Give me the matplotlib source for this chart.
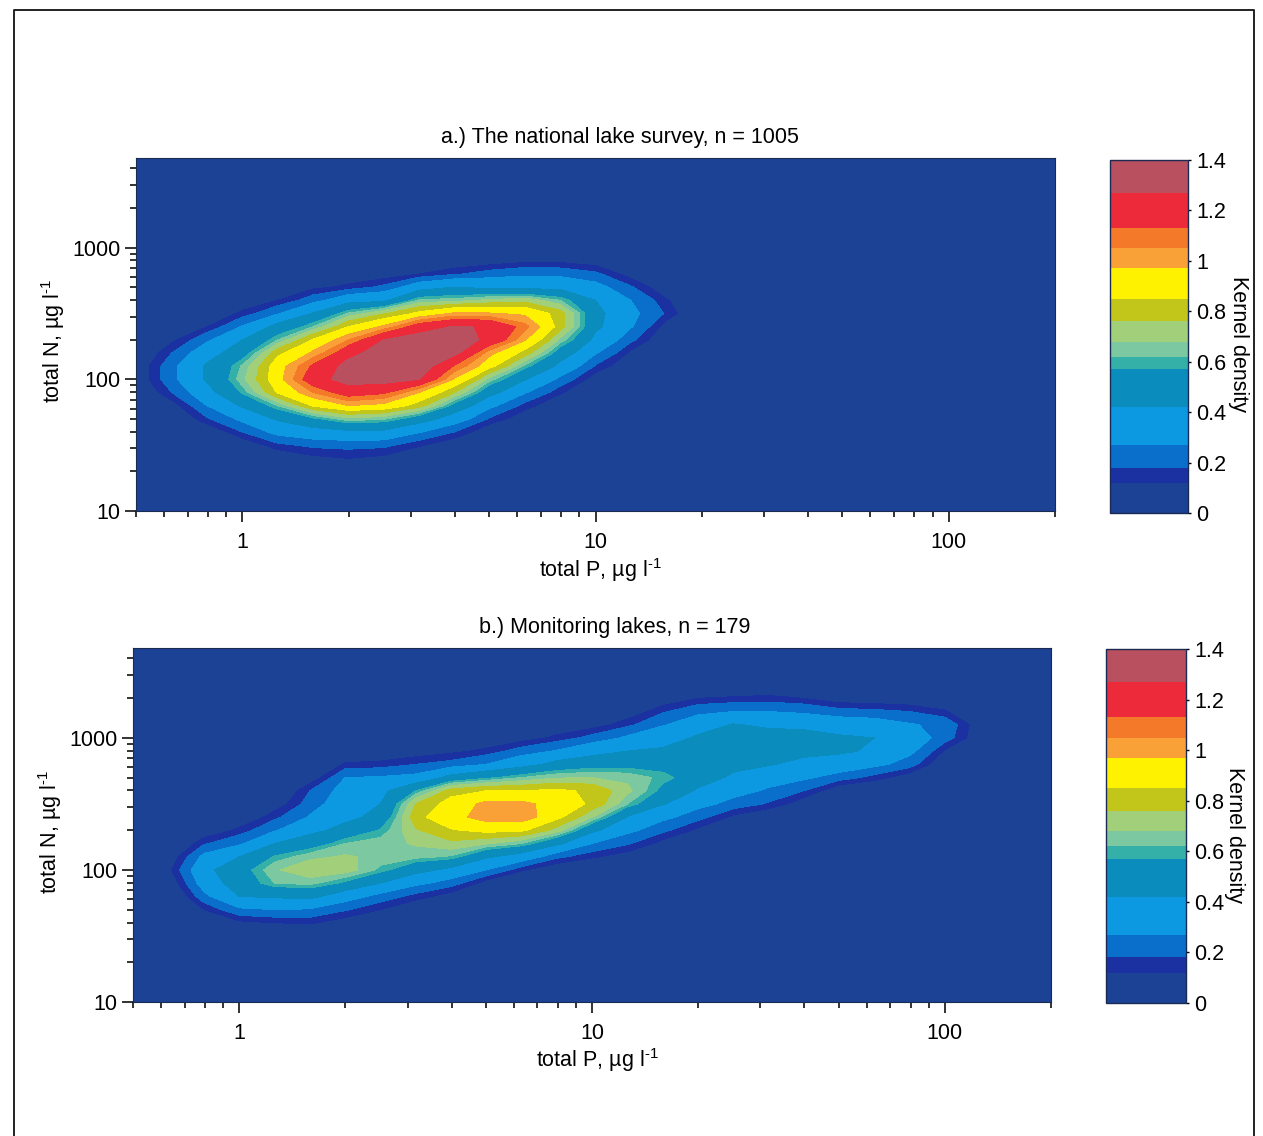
import numpy as np
import matplotlib
matplotlib.use("Agg")
import matplotlib.pyplot as plt
from matplotlib.colors import ListedColormap, BoundaryNorm
from matplotlib.lines import Line2D
from matplotlib.ticker import LogLocator, NullFormatter

plt.rcParams['font.family'] = ['Liberation Sans', 'DejaVu Sans']
plt.rcParams['mathtext.fontset'] = 'custom'
plt.rcParams['mathtext.rm'] = 'Liberation Sans'
plt.rcParams['mathtext.default'] = 'regular'

W, H = 1263, 1136

title_a = "a.) The national lake survey, n = 1005"
title_b = "b.) Monitoring lakes, n = 179"
x_ticks = [1, 10, 100]
x_tick_labels = ["1", "10", "100"]
y_ticks = [10, 100, 1000]
y_tick_labels = ["10", "100", "1000"]
cbar_ticks = [0, 0.2, 0.4, 0.6, 0.8, 1.0, 1.2, 1.4]
cbar_tick_labels = ["0", "0.2", "0.4", "0.6", "0.8", "1", "1.2", "1.4"]

band_levels = [0, .12, .18, .27, .42, .57, .62, .68, .76, .85, .97, 1.05, 1.13, 1.27, 1.4]
band_colors = ["#1c4296", "#1b31a2", "#0a6ecb", "#0d98e2", "#0a8dbc", "#35b0a8",
               "#7cc8a0", "#a2cf7a", "#c2c61a", "#fff200", "#f9a037", "#f47a2a", "#ec2a3a", "#b85060"]

# Panel a: log10 total P (columns), log10 total N (rows), density read per column, bottom to top
log_p_a = [-0.3, -0.2, -0.1, 0.0, 0.1, 0.2, 0.3, 0.4, 0.5, 0.6, 0.7, 0.8, 0.9, 1.0, 1.1, 1.2, 1.3]
log_n_a = [1.3, 1.4, 1.5, 1.6, 1.7, 1.8, 1.9, 2.0, 2.1, 2.2, 2.3, 2.4, 2.5, 2.6, 2.7, 2.8, 2.9, 3.0]
density_a_cols = [
    [0, 0, 0, 0, 0, 0, .03, .06, .06, .03, 0, 0, 0, 0, 0, 0, 0, 0],
    [0, 0, 0, 0, .02, .08, .18, .24, .24, .18, .1, .04, 0, 0, 0, 0, 0, 0],
    [0, 0, 0, .05, .17, .27, .37, .44, .44, .36, .25, .12, .04, 0, 0, 0, 0, 0],
    [0, 0, .06, .18, .3, .44, .58, .66, .63, .51, .42, .28, .14, .05, 0, 0, 0, 0],
    [0, .05, .16, .31, .44, .62, .86, .93, .92, .82, .62, .47, .26, .12, .04, 0, 0, 0],
    [.02, .1, .2, .36, .55, .86, 1.05, 1.22, 1.15, .99, .86, .62, .43, .23, .1, .03, 0, 0],
    [.02, .12, .21, .39, .66, .97, 1.2, 1.32, 1.32, 1.22, 1.05, .85, .63, .36, .14, .05, 0, 0],
    [.02, .1, .2, .39, .63, .94, 1.15, 1.33, 1.36, 1.35, 1.27, .99, .75, .39, .2, .07, .02, 0],
    [0, .04, .13, .28, .5, .8, .97, 1.27, 1.35, 1.35, 1.33, 1.2, .88, .63, .35, .12, .03, 0],
    [0, 0, .06, .18, .34, .53, .76, .96, 1.12, 1.31, 1.33, 1.28, .99, .65, .42, .17, .05, 0],
    [0, 0, 0, .05, .17, .3, .47, .65, .89, 1.0, 1.24, 1.26, .98, .7, .38, .22, .07, 0],
    [0, 0, 0, 0, .06, .15, .28, .43, .6, .81, .98, 1.08, .95, .73, .37, .25, .1, .02],
    [0, 0, 0, 0, 0, .05, .13, .24, .38, .5, .66, .8, .8, .62, .38, .24, .1, .02],
    [0, 0, 0, 0, 0, 0, .02, .07, .17, .28, .38, .45, .46, .42, .31, .2, .07, 0],
    [0, 0, 0, 0, 0, 0, 0, 0, .04, .1, .2, .28, .3, .27, .19, .08, .02, 0],
    [0, 0, 0, 0, 0, 0, 0, 0, 0, 0, .03, .08, .17, .13, .05, 0, 0, 0],
    [0, 0, 0, 0, 0, 0, 0, 0, 0, 0, 0, 0, 0, 0, 0, 0, 0, 0],
]

# Panel b
log_p_b = [-0.3, -0.2, -0.1, 0.0, 0.1, 0.2, 0.3, 0.4, 0.5, 0.6, 0.7, 0.8, 0.9, 1.0, 1.1, 1.2, 1.3,
           1.4, 1.5, 1.6, 1.7, 1.8, 1.9, 2.0, 2.1, 2.2]
log_n_b = [1.5, 1.6, 1.7, 1.8, 1.9, 2.0, 2.1, 2.2, 2.3, 2.4, 2.5, 2.6, 2.7, 2.8, 2.9, 3.0, 3.1, 3.2, 3.3, 3.4]
density_b_cols = [
    [0, 0, 0, 0, 0, 0, 0, 0, 0, 0, 0, 0, 0, 0, 0, 0, 0, 0, 0, 0],
    [0, 0, 0, 0, .05, .1, .06, 0, 0, 0, 0, 0, 0, 0, 0, 0, 0, 0, 0, 0],
    [0, 0, .12, .24, .33, .38, .3, .17, .05, 0, 0, 0, 0, 0, 0, 0, 0, 0, 0, 0],
    [0, .1, .25, .42, .5, .52, .42, .25, .14, .04, 0, 0, 0, 0, 0, 0, 0, 0, 0, 0],
    [0, .12, .27, .44, .62, .67, .58, .42, .26, .16, .07, .02, 0, 0, 0, 0, 0, 0, 0, 0],
    [0, .13, .26, .46, .64, .74, .66, .5, .38, .28, .22, .18, .06, .02, 0, 0, 0, 0, 0, 0],
    [0, .08, .19, .33, .55, .72, .69, .62, .47, .38, .35, .32, .27, .13, .04, 0, 0, 0, 0, 0],
    [0, .03, .12, .23, .42, .6, .66, .65, .58, .47, .42, .38, .28, .14, .05, 0, 0, 0, 0, 0],
    [0, 0, .05, .15, .3, .47, .64, .69, .75, .82, .76, .57, .3, .18, .07, 0, 0, 0, 0, 0],
    [0, 0, 0, .08, .22, .38, .61, .74, .84, .93, .9, .8, .47, .21, .1, .03, 0, 0, 0, 0],
    [0, 0, 0, 0, .08, .27, .44, .69, .88, 1.02, 1.0, .85, .55, .27, .14, .04, 0, 0, 0, 0],
    [0, 0, 0, 0, .03, .13, .35, .62, .87, 1.03, 1.0, .85, .62, .36, .22, .08, .02, 0, 0, 0],
    [0, 0, 0, 0, 0, .05, .2, .45, .72, .88, .92, .87, .67, .47, .28, .14, .05, 0, 0, 0],
    [0, 0, 0, 0, 0, .03, .13, .27, .45, .68, .83, .83, .68, .52, .36, .21, .08, .02, 0, 0],
    [0, 0, 0, 0, 0, 0, .08, .19, .3, .41, .62, .7, .66, .53, .42, .29, .16, .06, 0, 0],
    [0, 0, 0, 0, 0, 0, 0, .09, .2, .3, .43, .54, .6, .52, .44, .36, .26, .17, .05, 0],
    [0, 0, 0, 0, 0, 0, 0, 0, .1, .21, .31, .4, .5, .52, .5, .44, .35, .24, .12, .03],
    [0, 0, 0, 0, 0, 0, 0, 0, 0, .1, .23, .32, .39, .47, .52, .5, .43, .27, .13, .04],
    [0, 0, 0, 0, 0, 0, 0, 0, 0, .04, .17, .25, .34, .43, .5, .49, .39, .27, .14, .04],
    [0, 0, 0, 0, 0, 0, 0, 0, 0, 0, .07, .18, .29, .38, .46, .48, .38, .25, .12, .03],
    [0, 0, 0, 0, 0, 0, 0, 0, 0, 0, 0, .05, .22, .36, .44, .44, .35, .21, .07, 0],
    [0, 0, 0, 0, 0, 0, 0, 0, 0, 0, 0, .03, .15, .3, .4, .42, .33, .2, .06, 0],
    [0, 0, 0, 0, 0, 0, 0, 0, 0, 0, 0, 0, .07, .22, .3, .34, .28, .18, .05, 0],
    [0, 0, 0, 0, 0, 0, 0, 0, 0, 0, 0, 0, 0, .03, .11, .22, .24, .13, .03, 0],
    [0, 0, 0, 0, 0, 0, 0, 0, 0, 0, 0, 0, 0, 0, 0, .05, .06, 0, 0, 0],
    [0, 0, 0, 0, 0, 0, 0, 0, 0, 0, 0, 0, 0, 0, 0, 0, 0, 0, 0, 0],
]

cmap = ListedColormap(band_colors)
FS = 15.5


def box(l, t, r, b):
    return [l / W, 1 - b / H, (r - l) / W, (b - t) / H]


fig = plt.figure(figsize=(W / 100, H / 100), dpi=100, facecolor="white")


def panel(rect, crect, lp, ln, cols, title, title_x, xlab_x, xlab_y, ylab_x, clab_x, clab_y):
    ax = fig.add_axes(box(*rect))
    ax.set_facecolor(band_colors[0])
    P = 10 ** np.array(lp)
    N = 10 ** np.array(ln)
    Z = np.array(cols).T
    norm = BoundaryNorm(band_levels, cmap.N)
    cs = ax.contourf(P, N, Z, levels=band_levels, cmap=cmap, norm=norm)
    ax.set_xscale("log")
    ax.set_yscale("log")
    ax.set_xlim(0.5, 200)
    ax.set_ylim(10, 4800)
    ax.set_xticks(x_ticks, x_tick_labels)
    ax.set_yticks(y_ticks, y_tick_labels)
    for a in (ax.xaxis, ax.yaxis):
        a.set_minor_locator(LogLocator(base=10, subs=range(2, 10), numticks=20))
        a.set_minor_formatter(NullFormatter())
    ax.tick_params(which="major", length=8, width=1.2, labelsize=FS, color="#111111")
    ax.tick_params(axis="x", which="major", pad=7)
    ax.tick_params(axis="y", which="major", pad=3)
    ax.tick_params(which="minor", length=4, width=1.2, color="#111111")
    for s in ax.spines.values():
        s.set_linewidth(0.8)
        s.set_color("#1a2a50")
    l, t, r, b = rect
    fig.text(title_x / W, 1 - (t - 21) / H, title, ha="center", va="center", fontsize=FS)
    fig.text(xlab_x / W, 1 - xlab_y / H, r"total P, µg l$^{\text{-}1}$", ha="center", va="center", fontsize=FS)
    fig.text(ylab_x / W, 1 - (b - 170) / H, r"total N, µg l$^{\text{-}1}$", ha="center", va="center",
             rotation=90, fontsize=FS)
    cax = fig.add_axes(box(*crect))
    cb = fig.colorbar(cs, cax=cax, spacing="proportional")
    cax.minorticks_off()
    cax.set_yticks(cbar_ticks, cbar_tick_labels)
    cax.tick_params(length=2, width=1, labelsize=FS, pad=4)
    cb.outline.set_linewidth(1.0)
    cb.outline.set_edgecolor("#1a2a50")
    fig.text(clab_x / W, 1 - clab_y / H, "Kernel density", ha="center", va="center",
             rotation=270, fontsize=FS)


panel((136, 158, 1055, 511), (1110, 160, 1188, 513), log_p_a, log_n_a, density_a_cols, title_a,
      620, 600, 570, 53, 1239, 344)
panel((133, 648, 1051, 1002), (1106, 649, 1186, 1003), log_p_b, log_n_b, density_b_cols, title_b,
      615, 597, 1060, 50, 1235, 835)

frame_x = [14 / W, 14 / W, 1254 / W, 1254 / W]
frame_y = [0, 1 - 10 / H, 1 - 10 / H, 0]
fig.add_artist(Line2D(frame_x, frame_y, transform=fig.transFigure, color="#111111", lw=1.3))

fig.savefig("out.png", dpi=100)
